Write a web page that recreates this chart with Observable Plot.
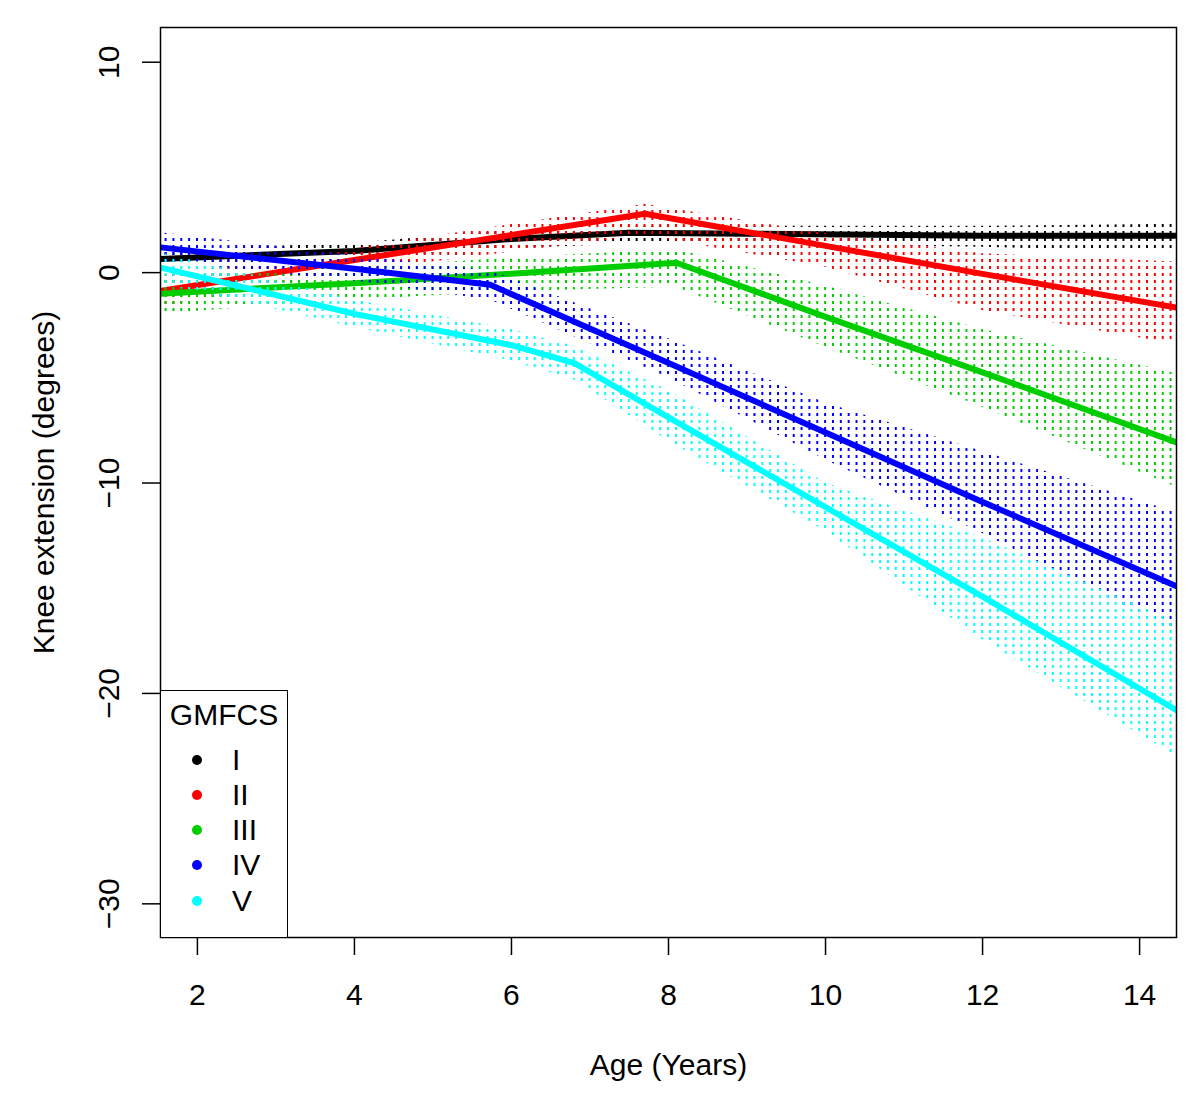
<!DOCTYPE html>
<html>
<head>
<meta charset="utf-8">
<script src="https://cdn.jsdelivr.net/npm/d3@7"></script>
<script src="https://cdn.jsdelivr.net/npm/@observablehq/plot@0.6"></script>
<style>
  html, body { margin: 0; padding: 0; background: #fff; }
  #wrap { position: relative; width: 1200px; height: 1100px; font-family: "Liberation Sans", Arial, sans-serif; }
  #wrap svg { display: block; }
  #legend { position: absolute; background: #fff; border: 1.5px solid #000; box-sizing: border-box; font-size: 30px; color: #000; }
  #legend .t { position: absolute; left: 0; width: 100%; text-align: center; height: 30px; line-height: 30px; }
  #legend .row { position: absolute; left: 0; height: 30px; line-height: 30px; width: 100%; }
  #legend .dot { position: absolute; width: 10px; height: 10px; border-radius: 50%; top: 10px; }
  #legend .lab { position: absolute; }
</style>
</head>
<body>
<div id="wrap"></div>
<script>
// ---- Data (knots of each fitted curve and its band) ----
const groups = ["I", "II", "III", "IV", "V"];
const colors = ["#000000", "#FF0000", "#00CD00", "#0000FF", "#00FFFF"];
const xTicks = [2, 4, 6, 8, 10, 12, 14];
const yTicks = [-30, -20, -10, 0, 10];
const legendTitle = "GMFCS";
const xLabel = "Age (Years)";
const yLabel = "Knee extension (degrees)";

// GMFCS I (black)
const ageI = [1.53, 4, 6, 7.5, 9, 12, 14.47];
const midI = [0.65, 1.03, 1.6, 1.9, 1.85, 1.75, 1.75];
const loI  = [0.25, 0.65, 1.15, 1.35, 1.35, 1.2, 0.95];
const hiI  = [1.05, 1.4, 2.0, 2.2, 2.2, 2.2, 2.3];
// GMFCS II (red)
const ageII = [1.53, 4, 7.7, 10, 12, 14.47];
const midII = [-0.87, 0.6, 2.8, 1.27, -0.06, -1.66];
const loII  = [-1.65, 0.05, 1.75, 0.25, -1.8, -3.4];
const hiII  = [-0.15, 1.15, 3.25, 1.85, 0.9, 0.5];
// GMFCS III (green)
const ageIII = [1.53, 4, 6, 8.1, 10, 12, 14.47];
const midIII = [-1.0, -0.5, -0.05, 0.47, -2.1, -4.74, -8.07];
const loIII  = [-1.95, -1.3, -0.9, -0.7, -3.55, -6.4, -10.2];
const hiIII  = [-0.2, 0.2, 0.7, 1.1, -0.63, -2.7, -4.8];
// GMFCS IV (blue)
const ageIV = [1.53, 4, 5.73, 8, 10, 12, 14.47];
const midIV = [1.2, 0.18, -0.58, -4.3, -7.6, -10.9, -14.9];
const loIV  = [0.5, -0.4, -1.3, -5.0, -8.9, -12.4, -17.1];
const hiIV  = [1.9, 0.8, 0.1, -3.14, -6.2, -8.5, -11.4];
// GMFCS V (cyan)
const ageV = [1.53, 4, 6, 6.8, 8, 10, 12, 14.47];
const midV = [0.24, -1.96, -3.45, -4.3, -6.88, -11.15, -15.4, -20.8];
const loV  = [-0.5, -2.6, -4.2, -5.1, -8.0, -12.3, -17.45, -23.0];
const hiV  = [0.95, -1.3, -2.7, -3.5, -5.6, -10.0, -12.6, -16.6];

const series = [
  [ageI, midI, loI, hiI],
  [ageII, midII, loII, hiII],
  [ageIII, midIII, loIII, hiIII],
  [ageIV, midIV, loIV, hiIV],
  [ageV, midV, loV, hiV]
];

const tables = series.map(([age, mid, lo, hi], i) =>
  age.map((a, j) => ({group: groups[i], age: a, mid: mid[j], lo: lo[j], hi: hi[j]}))
);

const font = "Liberation Sans, Arial, sans-serif";
const marks = [];
tables.forEach((rows, i) => {
  marks.push(Plot.areaY(rows, {x: "age", y1: "lo", y2: "hi", fill: `url(#band${i})`, clip: true}));
  marks.push(Plot.line(rows, {x: "age", y: "mid", stroke: colors[i], strokeWidth: 6, clip: true}));
});
marks.push(Plot.frame({stroke: "#000", strokeWidth: 1.5}));
marks.push(Plot.axisX({ticks: xTicks, tickSize: 18, tickPadding: 28, strokeWidth: 1.5, fontSize: 30,
  label: xLabel, labelAnchor: "center", labelArrow: "none", labelOffset: 137}));
marks.push(Plot.axisY({ticks: yTicks, tickSize: 18, tickPadding: 24, tickRotate: -90, strokeWidth: 1.5, fontSize: 30,
  label: yLabel, labelAnchor: "center", labelArrow: "none", labelOffset: 128}));

const plot = Plot.plot({
  width: 1200,
  height: 1100,
  marginLeft: 160,
  marginRight: 24,
  marginTop: 27,
  marginBottom: 163,
  style: {fontFamily: font, fontSize: "30px", color: "#000", background: "#fff"},
  x: {domain: [1.53, 14.47]},
  y: {domain: [-31.6, 11.65]},
  marks
});

// dotted vertical hatching for the confidence bands
const xs = plot.scale("x");
const x0 = xs.apply(2);
const step = xs.apply(2.1) - x0;
const defs = d3.select(plot).insert("defs", ":first-child");
colors.forEach((c, i) => {
  const p = defs.append("pattern")
    .attr("id", `band${i}`)
    .attr("patternUnits", "userSpaceOnUse")
    .attr("x", Math.round(x0) - 1)
    .attr("y", 0)
    .attr("width", step)
    .attr("height", 7);
  p.append("rect")
    .attr("x", 0).attr("y", 0).attr("width", 2).attr("height", 3)
    .attr("fill", c)
    .attr("shape-rendering", "crispEdges");
});

const wrap = document.getElementById("wrap");
wrap.appendChild(plot);

// legend box (bottom-left inside the plot frame)
const legend = document.createElement("div");
legend.id = "legend";
legend.style.left = "160px";
legend.style.top = "690px";
legend.style.width = "128px";
legend.style.height = "248px";
const t = document.createElement("div");
t.className = "t";
t.style.top = "9px";
t.textContent = legendTitle;
legend.appendChild(t);
const rowCenters = [68.5, 104, 139, 174, 209.5];
groups.forEach((g, i) => {
  const r = document.createElement("div");
  r.className = "row";
  r.style.top = (rowCenters[i] - 15) + "px";
  const d = document.createElement("span");
  d.className = "dot";
  d.style.left = "31px";
  d.style.background = colors[i];
  const l = document.createElement("span");
  l.className = "lab";
  l.style.left = "71px";
  l.textContent = g;
  r.appendChild(d);
  r.appendChild(l);
  legend.appendChild(r);
});
wrap.appendChild(legend);
</script>
</body>
</html>
